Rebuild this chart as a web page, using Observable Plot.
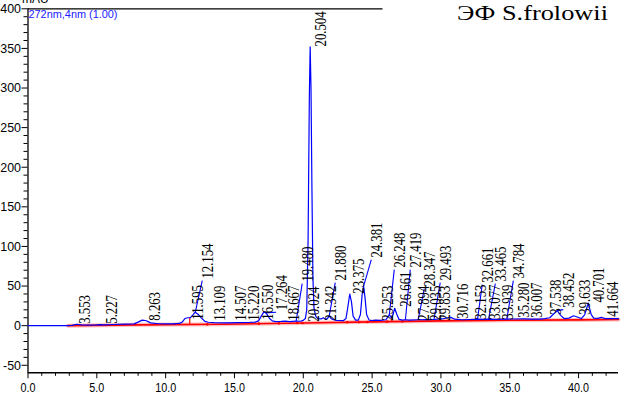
<!DOCTYPE html>
<html><head><meta charset="utf-8">
<script src="https://cdn.jsdelivr.net/npm/d3@7"></script>
<script src="https://cdn.jsdelivr.net/npm/@observablehq/plot@0.6"></script>
<style>
html,body{margin:0;padding:0;background:#fff;}
#chart{position:relative;width:639px;height:400px;overflow:hidden;background:#fff;}
</style></head><body><div id="chart"></div>
<script>
// Chromatogram trace (time, min / absorbance, mAU)
const traceTime = [0,2.8,3.2,3.55,3.9,4.5,5.0,5.23,5.5,6.2,
  7.0,7.7,8.0,8.3,8.6,8.9,9.5,10.5,11.0,11.2,
  11.4,11.6,11.8,12.0,12.15,12.35,12.6,12.85,13.1,13.5,
  14.5,15.2,16.0,16.5,16.75,16.95,17.1,17.22,17.38,17.55,
  17.75,18.0,18.4,18.7,19.0,19.48,19.8,20.02,20.15,20.25,
  20.35,20.44,20.5,20.56,20.63,20.7,20.78,20.9,21.05,21.3,
  21.45,21.6,21.75,21.88,22.05,22.4,22.9,23.1,23.25,23.375,
  23.5,23.62,23.8,24.0,24.15,24.28,24.38,24.48,24.6,24.78,
  25.0,25.25,25.6,26.0,26.15,26.25,26.4,26.52,26.64,26.78,
  26.95,27.2,27.42,27.7,28.35,29.0,29.5,29.85,30.2,30.5,
  30.72,31.0,31.5,32.15,32.66,33.08,33.47,33.94,34.78,35.28,
  36.0,36.5,37.2,37.54,37.9,38.2,38.45,38.7,38.95,39.3,
  39.63,39.9,40.2,40.45,40.7,40.92,41.1,41.4,41.66,41.9,
  42.3,42.9];
const traceMAU = [0,0,0.4,1.8,1.0,0.8,0.9,1.4,1.1,1.5,
  1.9,2.3,4.5,7,6.2,3.5,2.4,2.2,2.8,4.5,
  9,10,10.2,14,17,14.5,9.5,5.5,4.3,3.8,
  3.6,3.8,4.0,4.5,6,12,16.5,17,14,9,
  6,5.2,5.4,5.8,5.2,5.8,5.6,7,9,20,
  110,290,352,300,170,60,22,12,9,8.5,
  10,8,9,12,8.5,6.5,6.3,9,25,40,
  30,12,7,7,14,40,50,36,14,7,
  6.5,7,6.6,7.5,11,14,10,14,22,15,
  8,7,7.5,7,7.5,7.6,7.8,8.5,9,10,
  10.5,8.2,7.5,7.8,8.2,7.9,8.2,8,8.2,8.4,
  8.5,8.3,8.2,9,10,15,19,13,9,9.5,
  12.5,11,9,14,28.5,14,9.5,9.3,10.5,9,
  8.8,8.8];

// Integration baseline (red)
const baseTime = [2.9,8,14,20,25,30,35,40,42.9];
const baseMAU  = [0,1,1.8,3.4,4.8,6,6.8,7.3,7.8];

// Peak retention times (labels) and where each label sits
const peakTimes = [3.553,5.227,8.263,11.595,12.154,13.109,14.507,15.220,16.550,17.264,
  18.667,19.480,20.024,20.504,21.342,21.880,23.375,24.381,25.253,26.248,
  26.661,27.419,27.894,28.347,29.035,29.493,29.853,30.716,32.153,32.661,
  33.077,33.465,33.939,34.784,35.280,36.007,37.538,38.452,39.633,40.701,
  41.664];
const labelTime = [3.60,5.56,8.68,11.81,12.54,13.41,14.93,15.88,16.90,17.91,
  18.79,19.80,20.24,20.75,21.47,22.20,23.51,24.82,25.62,26.49,
  26.92,27.65,28.23,28.67,29.11,29.83,29.76,31.07,32.38,32.88,
  33.39,33.83,34.34,35.14,35.50,36.45,37.83,38.77,39.93,40.95,
  41.97];
const labelMAU = [2.5,2.5,6.3,7.6,59.4,6.3,6.3,6.3,7.6,19.5,
  6.3,55.6,5.1,352.5,6.3,56.9,40.4,85.9,6.3,73.3,
  24.0,73.3,6.3,49.3,6.3,56.9,6.3,8.8,7.6,54.3,
  7.6,55.6,7.6,59.4,10.1,10.1,13.9,22.7,13.9,29.1,
  11.4];
const leaderPeaks = [12.154,17.264,19.480,21.880,24.381,26.248,27.419,28.347,29.493,32.661,33.465,34.784,38.452];

// Peak separation drop lines and boundary marks (red)
const dropTime = [11.75, 26.43];
const dropLow  = [1.6, 5.2];
const dropHigh = [10.3, 10.2];
const markTime = [13.02,16.77,18.23,19.56,19.93,23.19,24.04,24.65,26.1,27.2];

// Axis ticks
const xMajor = [0,5,10,15,20,25,30,35,40];
const xMinor = [1,2,3,4,6,7,8,9,11,12,13,14,16,17,18,19,21,22,23,24,26,27,28,29,31,32,33,34,36,37,38,39,41,42];
const yMajor = [-50,0,50,100,150,200,250,300,350,400];
const yMinor = [-40,-30,-20,-10,10,20,30,40,60,70,80,90,110,120,130,140,160,170,180,190,210,220,230,240,260,270,280,290,310,320,330,340,360,370,380,390];

function interp(ts, vs, t) {
  for (let i = 1; i < ts.length; i++) {
    if (t <= ts[i]) { const f = (t - ts[i-1]) / (ts[i] - ts[i-1]); return vs[i-1] + f * (vs[i] - vs[i-1]); }
  }
  return vs[vs.length - 1];
}

const trace = traceTime.map((t, i) => ({t, v: traceMAU[i]}));
const base = baseTime.map((t, i) => ({t, v: baseMAU[i]}));
const labels = peakTimes.map((p, i) => ({p, lt: labelTime[i], lv: labelMAU[i]}));
const leaders = labels.filter(d => leaderPeaks.includes(d.p)).map(d => ({
  x1: d.p, y1: interp(traceTime, traceMAU, d.p), x2: d.lt + 0.12, y2: d.lv - 2.5
}));
const drops = dropTime.map((t, i) => ({t, lo: dropLow[i], hi: dropHigh[i]}));
const marks = markTime.map(t => ({t, v: interp(baseTime, baseMAU, t)}));

const svg = Plot.plot({
  width: 639, height: 400,
  marginLeft: 27.5, marginRight: 21, marginTop: 8.3, marginBottom: 27.7,
  x: {domain: [0, 42.9], label: null},
  y: {domain: [-59.5, 400], label: null},
  style: {fontFamily: "'Liberation Sans', Arial, sans-serif", fontSize: "13.5px", color: "#000", background: "#fff", overflow: "visible"},
  marks: [
    Plot.ruleY([400], {stroke: "#000", strokeWidth: 1.3}),
    Plot.ruleX([0], {stroke: "#000", strokeWidth: 1.3}),
    Plot.ruleY([-59.5], {stroke: "#000", strokeWidth: 1.4}),
    Plot.axisY(yMajor, {anchor: "left", tickSize: 6, tickPadding: 1, tickFormat: d => String(d)}),
    Plot.axisY(yMinor, {anchor: "left", tickSize: 4, tickFormat: () => ""}),
    Plot.axisX(xMajor, {anchor: "bottom", tickSize: 6, tickPadding: 4, tickFormat: d => d.toFixed(1)}),
    Plot.axisX(xMinor, {anchor: "bottom", tickSize: 3.5, tickFormat: () => ""}),
    Plot.line(base, {x: "t", y: "v", stroke: "#ff0000", strokeWidth: 4, strokeOpacity: 0.25}),
    Plot.line(base, {x: "t", y: "v", stroke: "#ff0000", strokeWidth: 1.6}),
    Plot.ruleX(drops, {x: "t", y1: "lo", y2: "hi", stroke: "#ff0000", strokeWidth: 1.2}),
    Plot.dot(marks, {x: "t", y: "v", r: 1.3, fill: "#ff0000"}),
    Plot.line(trace, {x: "t", y: "v", stroke: "#0000ff", strokeWidth: 1.2}),
    Plot.link(leaders, {x1: "x1", y1: "y1", x2: "x2", y2: "y2", stroke: "#0000ff", strokeWidth: 1.1}),
    Plot.text(labels, {x: "lt", y: "lv", text: d => d.p.toFixed(3), rotate: -90,
      textAnchor: "start", lineAnchor: "top", fontFamily: "'Liberation Serif','Times New Roman',serif",
      fontSize: 17, fill: "#000"})
  ]
});

function squeeze(sel, sx) {
  svg.querySelectorAll(sel).forEach(t => {
    t.setAttribute("transform", (t.getAttribute("transform") || "") + ` scale(${sx},1)`);
  });
}
squeeze('g[aria-label="text"] text', 0.75);
squeeze('g[aria-label="x-axis tick label"] text', 0.8);
squeeze('g[aria-label="y-axis tick label"] text', 0.92);

const s = d3.select(svg);
s.append("rect").attr("x", 382.5).attr("y", 0).attr("width", 257).attr("height", 30).attr("fill", "#fff");
s.append("text").attr("x", 457).attr("y", 19.5).attr("text-anchor", "start")
  .attr("font-family", "'Liberation Serif','Times New Roman',serif").attr("font-size", 21)
  .attr("textLength", 151).attr("lengthAdjust", "spacingAndGlyphs").attr("fill", "#000")
  .text("ЭФ S.frolowii");
s.append("text").attr("x", 28.5).attr("y", 18.3).attr("text-anchor", "start")
  .attr("font-family", "'Liberation Sans',Arial,sans-serif").attr("font-size", 11)
  .attr("textLength", 89).attr("lengthAdjust", "spacingAndGlyphs").attr("fill", "#2020ff")
  .text("272nm,4nm (1.00)");
s.append("text").attr("x", 22).attr("y", 3).attr("text-anchor", "start")
  .attr("font-family", "'Liberation Sans',Arial,sans-serif").attr("font-size", 12).attr("fill", "#000")
  .text("mAU");

document.getElementById("chart").appendChild(svg);
</script></body></html>
